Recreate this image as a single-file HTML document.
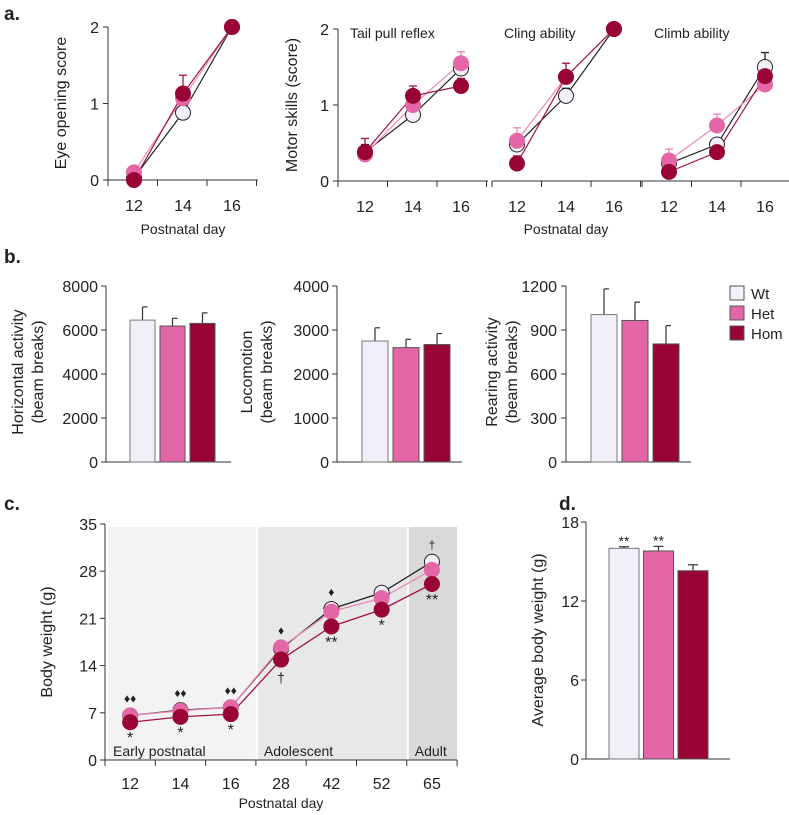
<!DOCTYPE html>
<html><head><meta charset="utf-8"><style>
body{margin:0;background:#fff;}
svg{display:block;font-family:"Liberation Sans",sans-serif;}
text{fill:#222;}
</style></head><body>
<svg id="fig" width="789" height="815" viewBox="0 0 789 815" xmlns="http://www.w3.org/2000/svg"></svg>
<script>
const groups=['Wt','Het','Hom'];
const fills=['#f3eff8','#e366a6','#990437'];
const strokes=['#222','#e366a6','#990437'];
const lineCols=['#222','#ec86b8','#a0124a'];
const days=[12,14,16];
// panel a data
const eyeWt=[0.03,0.88,2], eyeHet=[0.1,1.07,2], eyeHom=[0,1.13,2];
const eyeErrHom=[0,0.24,0], eyeErrHet=[0.08,0.15,0], eyeErrWt=[0,0.05,0];
const tailWt=[0.38,0.87,1.48], tailHet=[0.35,1.0,1.55], tailHom=[0.38,1.12,1.25];
const tailErrWt=[0.1,0.05,0.1], tailErrHet=[0.1,0.1,0.15], tailErrHom=[0.18,0.13,0.1];
const clingWt=[0.48,1.12,2], clingHet=[0.53,1.37,2], clingHom=[0.23,1.37,2];
const clingErrWt=[0.1,0.1,0], clingErrHet=[0.17,0.18,0], clingErrHom=[0.1,0.18,0];
const climbWt=[0.23,0.48,1.5], climbHet=[0.27,0.73,1.27], climbHom=[0.12,0.38,1.38];
const climbErrWt=[0.05,0.08,0.19], climbErrHet=[0.15,0.15,0.05], climbErrHom=[0.03,0.05,0.1];
// panel b data
const horizVals=[6450,6180,6300], horizErr=[600,350,480];
const locoVals=[2750,2600,2670], locoErr=[300,190,250];
const rearVals=[1005,965,805], rearErr=[175,125,125];
// panel c data
const weightDays=['12','14','16','28','42','52','65'];
const weightWt=[6.6,7.4,7.8,16.5,22.4,24.8,29.4];
const weightHet=[6.6,7.3,7.8,16.7,22.0,24.0,28.2];
const weightHom=[5.6,6.4,6.8,14.9,19.8,22.3,26.1];
// panel d data
const avgVals=[16.0,15.8,14.3], avgErr=[0.12,0.35,0.45];

const svg=document.getElementById('fig');
const NS='http://www.w3.org/2000/svg';
function mk(tag,attrs,parent){const e=document.createElementNS(NS,tag);for(const k in attrs)e.setAttribute(k,attrs[k]);(parent||svg).appendChild(e);return e;}
function txt(s,x,y,size,anchor,parent,extra){const t=mk('text',Object.assign({x:x,y:y,'font-size':size,'text-anchor':anchor||'middle'},extra||{}),parent);t.textContent=s;return t;}
function lin(x1,y1,x2,y2,parent,col,w){return mk('line',{x1:x1,y1:y1,x2:x2,y2:y2,stroke:col||'#333','stroke-width':w||1},parent);}

function label(s,x,y){const t=txt(s,x,y,19,'start',svg,{'font-weight':'bold'});

}
label('a.',4,20);label('b.',4,263);label('c.',4,510);label('d.',559,510);

function yAxis(g,x,y0,y1,ticks,max,labX){
  const ax=lin(x,y1,x,y0,g);
  
  
  ticks.forEach(v=>{const y=y0-(y0-y1)*v/max;lin(x-5,y,x,y,g);
    const t=txt(String(v),labX,y+6,16,'end',g);
    
    });
}
function yTitle(g,lines,x,y,gap){lines.forEach((s,i)=>{const t=txt(s,0,0,16,'middle',g,{transform:'translate('+(x+i*gap)+','+y+') rotate(-90)'});
  
  });}

// ----- line panels a -----
function linePanel(name,series,errs,ax0,px,y0,y1,max,title){
  const g=mk('g',{});
  
  
  const sy=v=>y0-(y0-y1)*v/max;
  const xa=lin(ax0,y0,ax0+150,y0,g);
  
  
  [0,1,2,3].forEach(i=>lin(ax0+i*49.5,y0,ax0+i*49.5,y0+6,g));
  days.forEach((d,i)=>{const t=txt(String(d),px[i],y0+31,16,'middle',g);
    
    });
  if(title){const t=txt(title,ax0+12,y1+9,14,'start',g);
    
    }
  [0,1,2].forEach(k=>{
    series[k].forEach((v,i)=>{if(errs[k][i]>0){lin(px[i],sy(v),px[i],sy(v+errs[k][i]),g,lineCols[k],1.3);lin(px[i]-4,sy(v+errs[k][i]),px[i]+4,sy(v+errs[k][i]),g,lineCols[k],1.3);}});
  });
  [0,1,2].forEach(k=>{
    const p=mk('polyline',{points:series[k].map((v,i)=>px[i]+','+sy(v)).join(' '),fill:'none',stroke:lineCols[k],'stroke-width':1.2},g);
    
    
  });
  [0,1,2].forEach(k=>{
    series[k].forEach((v,i)=>{const c=mk('circle',{cx:px[i],cy:sy(v),r:7.5,fill:fills[k],stroke:strokes[k],'stroke-width':1},g);
      
      });
  });
  return g;
}
// a1
const gEye=linePanel('eye-opening-chart',[eyeWt,eyeHet,eyeHom],[eyeErrWt,eyeErrHet,eyeErrHom],108,[134,183,232],180,27,2,null);
yAxis(gEye,108,180,27,[0,1,2],2,99);
yTitle(gEye,['Eye opening score'],66,103,0);
{const t=txt('Postnatal day',183,234,14,'middle',gEye);}
// a2-4
const gTail=linePanel('tail-pull-chart',[tailWt,tailHet,tailHom],[tailErrWt,tailErrHet,tailErrHom],338,[365,413,461],181,29,2,'Tail pull reflex');
yAxis(gTail,338,181,29,[0,1,2],2,329);
yTitle(gTail,['Motor skills (score)'],297,105,0);
linePanel('cling-chart',[clingWt,clingHet,clingHom],[clingErrWt,clingErrHet,clingErrHom],492,[517,566,614],181,29,2,'Cling ability');
linePanel('climb-chart',[climbWt,climbHet,climbHom],[climbErrWt,climbErrHet,climbErrHom],642,[669,717,765],181,29,2,'Climb ability');
{const t=txt('Postnatal day',566,234,14,'middle');}

// ----- bar panels b -----
function barPanel(name,vals,errs,ax,bx,bw,y0,y1,max,ticks,labX,titles,tx){
  const g=mk('g',{});
  
  
  const sy=v=>y0-(y0-y1)*v/max;
  const xa=lin(ax,y0,ax+125,y0,g);
  
  
  yAxis(g,ax,y0,y1,ticks,max,labX);
  vals.forEach((v,i)=>{
    const x=bx+i*(bw+5);
    lin(x+bw/2,sy(v),x+bw/2,sy(v+errs[i]),g,'#333',1.2);
    lin(x+bw/2,sy(v+errs[i]),x+bw/2+5,sy(v+errs[i]),g,'#333',1.2);
    const r=mk('rect',{x:x,y:sy(v),width:bw,height:y0-sy(v),fill:fills[i],stroke:i==0?'#777':'#555','stroke-width':1},g);
    
    
  });
  yTitle(g,titles,tx,372,20);
  return g;
}
barPanel('horizontal-activity-chart',horizVals,horizErr,106,130,25,462,286,8000,[0,2000,4000,6000,8000],98,['Horizontal activity','(beam breaks)'],23);
barPanel('locomotion-chart',locoVals,locoErr,337,362,26,462,286,4000,[0,1000,2000,3000,4000],329,['Locomotion','(beam breaks)'],252);
barPanel('rearing-activity-chart',rearVals,rearErr,566,591,26,462,286,1200,[0,300,600,900,1200],557,['Rearing activity','(beam breaks)'],497);
// legend
const leg=mk('g',{});


groups.forEach((gname,i)=>{
  const r=mk('rect',{x:730,y:286+i*20,width:14,height:14,fill:fills[i],stroke:'#555'},leg);
  
  
  const t=txt(gname,751,299+i*20,15,'start',leg);
  
  
});

// ----- panel c -----
const gc=mk('g',{});


const cy0=760,cy1=524,cmax=35,cx0=105,cstep=50.3;
const csy=v=>cy0-(cy0-cy1)*v/cmax;
const cx=i=>cx0+cstep*(i+0.5);
const bandCols=['#f3f3f3','#e8e8e8','#d9d9d9'];
const bandRanges=[[0,3],[3,6],[6,7]];
const bandNames=['Early postnatal','Adolescent','Adult'];
bandRanges.forEach((b,i)=>{
  const r=mk('rect',{x:cx0+cstep*b[0]+(i?2:3),y:527,width:cstep*(b[1]-b[0])-(i?2:3),height:cy0-527,fill:bandCols[i]},gc);
  
  
  const t=txt(bandNames[i],cx0+cstep*b[0]+8,756,14,'start',gc);
  
  
});
yAxis(gc,cx0,cy0,cy1,[0,7,14,21,28,35],35,97);
{const xa=lin(cx0,cy0,cx0+cstep*7,cy0,gc);}
for(let i=0;i<=7;i++)lin(cx0+cstep*i,cy0,cx0+cstep*i,cy0+6,gc);
weightDays.forEach((d,i)=>{const t=txt(d,cx(i),cy0+29,16,'middle',gc);});
{const t=txt('Postnatal day',281,808,14,'middle',gc);}
yTitle(gc,['Body weight (g)'],52,642,0);
const wSeries=[weightWt,weightHet,weightHom];
wSeries.forEach((s,k)=>{const p=mk('polyline',{points:s.map((v,i)=>cx(i)+','+csy(v)).join(' '),fill:'none',stroke:lineCols[k],'stroke-width':1.3},gc);
  
  });
wSeries.forEach((s,k)=>s.forEach((v,i)=>{const c=mk('circle',{cx:cx(i),cy:csy(v),r:7.5,fill:fills[k],stroke:strokes[k],'stroke-width':1},gc);
  
  }));
// significance marks
const above=['♦♦','♦♦','♦♦','♦','♦','','†'];
const below=['*','*','*','†','**','*','**'];
above.forEach((s,i)=>{if(!s)return;const top=Math.max(weightWt[i],weightHet[i]);const t=txt(s,cx(i),csy(top)-13,12,'middle',gc);});
below.forEach((s,i)=>{const t=txt(s,cx(i),csy(weightHom[i])+(s=='†'?23:21),s=='†'?14:16,'middle',gc);});

// ----- panel d -----
const gd=mk('g',{});


const dy0=759,dy1=522,dmax=18;
const dsy=v=>dy0-(dy0-dy1)*v/dmax;
yAxis(gd,586,dy0,dy1,[0,6,12,18],18,579);
{const xa=lin(586,dy0,730,dy0,gd);}
yTitle(gd,['Average body weight (g)'],543,640,0);
const dStars=['**','**',''];
avgVals.forEach((v,i)=>{
  const x=609+i*34.5,bw=30;
  lin(x+bw/2,dsy(v),x+bw/2,dsy(v+avgErr[i]),gd,'#333',1.2);
  lin(x+bw/2-5,dsy(v+avgErr[i]),x+bw/2+5,dsy(v+avgErr[i]),gd,'#333',1.2);
  const r=mk('rect',{x:x,y:dsy(v),width:bw,height:dy0-dsy(v),fill:fills[i],stroke:i==0?'#777':'#555'},gd);
  
  
  if(dStars[i]){const t=txt(dStars[i],x+bw/2,dsy(v+avgErr[i])-1,14,'middle',gd);}
});
</script>
</body></html>
